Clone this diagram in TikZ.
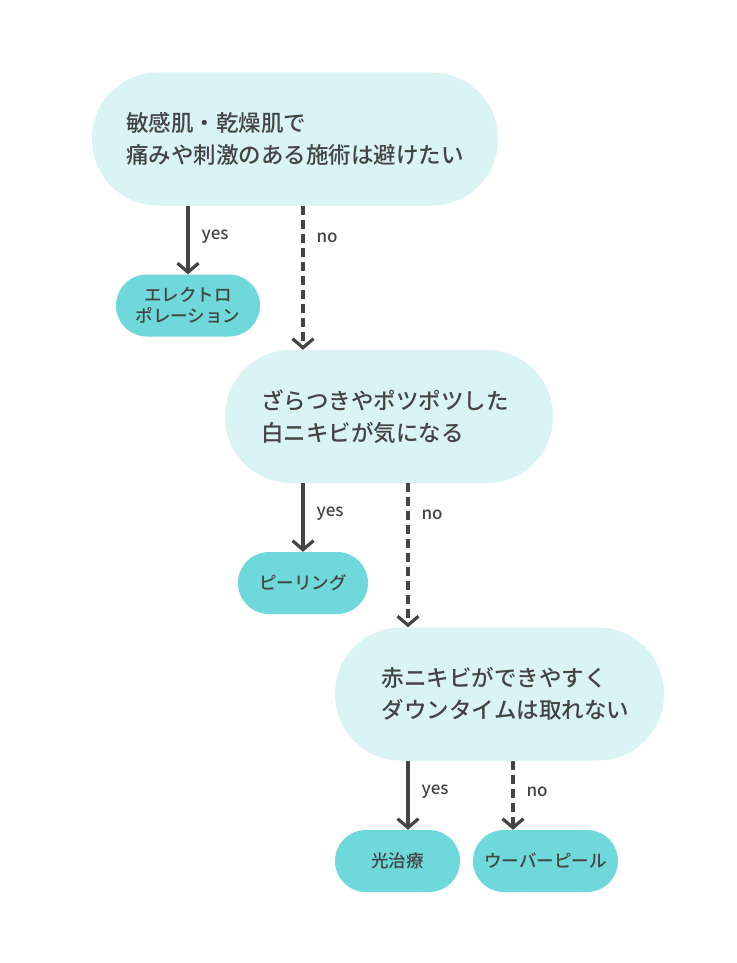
\documentclass[tikz,border=0pt]{standalone}
\usepackage{fontspec}
\setmainfont{Noto Sans CJK JP}[BoldFont={Noto Sans CJK JP Medium}]
\usetikzlibrary{arrows.meta}
\definecolor{qfill}{HTML}{DAF4F5}
\definecolor{lfill}{HTML}{6FD8DB}
\definecolor{ink}{HTML}{444444}
\tikzset{
  qbox/.style={draw=none, fill=qfill, rounded corners=66pt, align=left, text=ink,
    font=\fontsize{22.5}{32}\selectfont\bfseries, inner sep=0pt, minimum height=133pt},
  leaf/.style={draw=none, fill=lfill, rounded corners=31pt, align=center, text=ink,
    font=\fontsize{17.5}{21}\selectfont\bfseries, inner sep=0pt, minimum height=62pt},
  yesarrow/.style={draw=ink, line width=3.2pt, -{Straight Barb[length=9pt,width=21pt]}},
  noarrow/.style={yesarrow, dash pattern=on 9pt off 5pt},
  lbl/.style={text=ink, font=\fontsize{17}{18}\selectfont\bfseries, anchor=west, inner sep=0pt, xshift=12pt}
}
\begin{document}
\begin{tikzpicture}[x=1pt,y=-1pt]
\useasboundingbox[fill=white] (0,0) rectangle (736,963);
\node[qbox, minimum width=406pt] (q1) at (295,139) {敏感肌・乾燥肌で\\痛みや刺激のある施術は避けたい};
\node[leaf, minimum width=144pt] (l1) at (188,305.5) {エレクトロ\\ポレーション};
\node[qbox, minimum width=328pt] (q2) at (389,416.5) {ざらつきやポツポツした\hspace*{8pt}\\白ニキビが気になる};
\node[leaf, minimum width=130pt] (l2) at (303,583) {ピーリング};
\node[qbox, minimum width=329pt] (q3) at (499.5,694) {\hspace*{12pt}赤ニキビができやすく\\\hspace*{12pt}ダウンタイムは取れない};
\node[leaf, minimum width=125pt] (l3) at (397.5,861) {光治療};
\node[leaf, minimum width=145pt] (l4) at (545.5,861) {ウーバーピール};
\coordinate (c2) at (408,0);
\coordinate (c3) at (513,0);
\draw[yesarrow] (q1.south -| l1) -- node[lbl, pos=0.45] {yes} (l1.north);
\draw[noarrow] (q1.south -| l2) -- node[lbl, pos=0.22] {no} (l2 |- q2.north);
\draw[yesarrow] (q2.south -| l2) -- node[lbl, pos=0.45] {yes} (l2.north);
\draw[noarrow] (q2.south -| c2) -- node[lbl, pos=0.22] {no} (q3.north -| c2);
\draw[yesarrow] (q3.south -| c2) -- node[lbl, pos=0.45] {yes} (l3.north -| c2);
\draw[noarrow] (q3.south -| c3) -- node[lbl, pos=0.45] {no} (l4.north -| c3);
\end{tikzpicture}
\end{document}
